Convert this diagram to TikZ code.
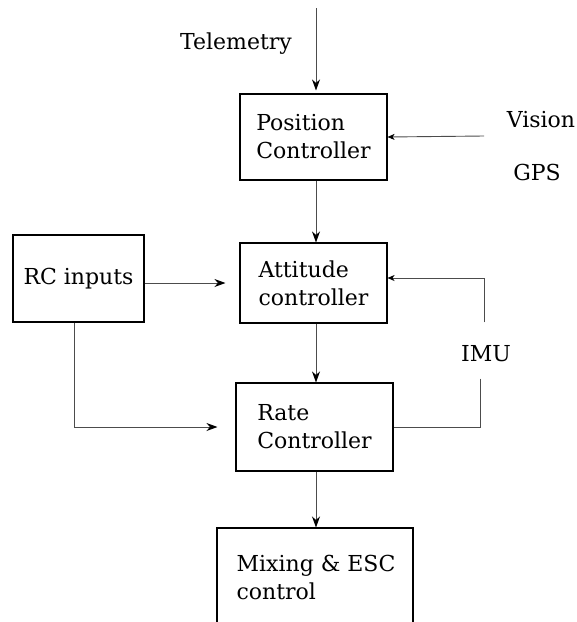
\documentclass[tikz,border=0pt]{standalone}
\usepackage{fontspec}
\setmainfont{DejaVu Serif}
\usetikzlibrary{arrows.meta}
\begin{document}
\begin{tikzpicture}[x=1pt, y=-1pt,
    every node/.style={font=\fontsize{22}{28}\selectfont},
    block/.style={draw=black, line width=1.1pt, inner sep=0pt, align=left},
    wire/.style={line width=0.9pt, draw=black!70},
    arr/.style={wire, -{Stealth[length=11pt, width=8pt, inset=3.5pt, black]}},
    smallarr/.style={wire, -{Stealth[length=7pt, width=6pt, inset=2pt, black]}}]
  \useasboundingbox (0,0) rectangle (577,622);
  \clip (0,0) rectangle (577,622);

  % controller blocks
  \draw node[block, minimum width=147pt, minimum height=86pt] (pos) at (313.5,137) {Position\\Controller};
  \draw node[block, minimum width=147pt, minimum height=80pt] (att) at (313.5,283) {Attitude\\controller};
  \draw node[block, minimum width=131pt, minimum height=87pt] (rc) at (78.5,278.5) {RC inputs};
  \draw node[block, minimum width=157pt, minimum height=88pt] (rate) at (314.5,427) {Rate\\Controller};
  \draw node[block, minimum width=196pt, minimum height=140pt] (mix) at (315,598) {};
  \draw node[align=left] (mixtxt) at (316,577) {Mixing \& ESC\\control};

  % inputs
  \draw node (tele) at (236,44) {Telemetry};
  \draw node (vision) at (541,120) {Vision};
  \draw node (gps) at (537,172) {GPS};
  \draw node (imu) at (486,354) {IMU};
  \coordinate (top) at (316,8);
  \coordinate (vis) at (484,136);

  \draw[arr, shorten >=3pt] (top) -- (top |- pos.north);
  \draw[smallarr] (vis) -- (pos.east);
  \draw[arr] (pos.south -| top) -- (att.north -| top);
  \draw[arr, shorten >=14pt] (rc.east |- att.west) -- (att.west);
  \draw[smallarr, shorten <=20pt] ([xshift=-2pt]imu.north) |- ([yshift=5pt]att.east);
  \draw[arr] (att.south -| top) -- (rate.north -| top);
  \draw[arr, shorten >=18pt] ([xshift=-4.5pt]rc.south) |- (rate.west);
  \draw[wire, shorten <=13pt] ([xshift=-6pt]imu.south) |- (rate.east);
  \draw[arr] (rate.south -| top) -- (mix.north -| top);
\end{tikzpicture}
\end{document}
